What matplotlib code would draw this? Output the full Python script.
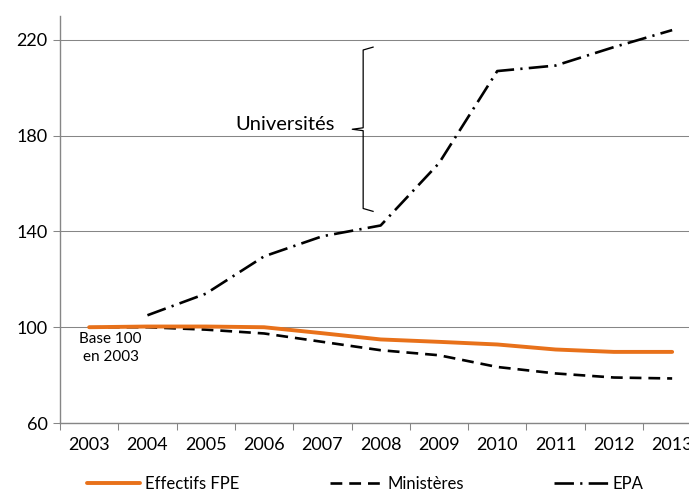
import matplotlib
matplotlib.use('Agg')
import matplotlib.pyplot as plt
import numpy as np

plt.rcParams['font.family'] = ['Lato', 'DejaVu Sans']
plt.rcParams['lines.scale_dashes'] = False

years = ['2003', '2004', '2005', '2006', '2007', '2008',
         '2009', '2010', '2011', '2012', '2013']
effectifs_fpe = [100, 100.3, 100.3, 100.0, 97.5, 94.9,
                 93.9, 92.8, 90.7, 89.7, 89.7]
ministeres = [100, 100, 99.0, 97.4, 93.9, 90.4,
              88.3, 83.4, 80.7, 79.0, 78.6]
epa = [np.nan, 105.0, 114.0, 129.6, 138.0, 142.5,
       168.5, 207.0, 209.3, 217.0, 224.1]

yticks = [60, 100, 140, 180, 220]
grey = '#868686'


def main():
    fig = plt.figure(figsize=(6.89, 4.93), dpi=100)
    # axes runs past the right edge, like the cropped original
    ax = fig.add_axes([60 / 689, 1 - 423 / 493, 641.3 / 689, 407 / 493])
    x = np.arange(len(years))

    ax.plot(x, effectifs_fpe, color='#E8711A', lw=2.8,
            solid_capstyle='round', label='Effectifs FPE', zorder=3)
    ax.plot(x, ministeres, color='black', lw=1.9,
            dashes=(8.5, 5), label='Ministères', zorder=2)
    ax.plot(x, epa, color='black', lw=1.9,
            dashes=(14, 4.5, 1.6, 4.5), label='EPA', zorder=2)

    ax.set_xlim(-0.5, len(years) - 0.5)
    ax.set_ylim(60, 230)
    ax.set_yticks(yticks)
    ax.set_xticks(x)
    ax.set_xticklabels(years)
    ax.set_xticks(np.arange(-0.5, len(years)), minor=True)
    ax.tick_params(axis='x', which='major', length=0, pad=10, labelsize=13)
    ax.tick_params(axis='x', which='minor', length=5, color=grey, width=0.75)
    ax.tick_params(axis='y', length=5, color=grey, width=0.75,
                   labelsize=13, pad=4)
    ax.grid(axis='y', color=grey, lw=0.75)
    ax.set_axisbelow(True)
    for side in ['top', 'right']:
        ax.spines[side].set_visible(False)
    for side in ['left', 'bottom']:
        ax.spines[side].set_color(grey)
        ax.spines[side].set_linewidth(1.0)

    # brace for Universités
    bx, top, mid, bot = 4.70, 217, 182.7, 148.4
    w = 0.17
    ax.plot([bx + w, bx, bx, bx - w * 1.1, bx, bx, bx + w],
            [top, top - 1.2, mid + 0.6, mid, mid - 0.6, bot + 1.2, bot],
            color='black', lw=0.9)
    ax.text(4.22, 184.8, 'Universités', ha='right', va='center', fontsize=14.5)
    ax.text(0.37, 98.0, 'Base 100\nen 2003', ha='center', va='top',
            fontsize=11, linespacing=1.35)

    fig.legend(loc='center', bbox_to_anchor=(0.53, 0.019), ncol=3,
               frameon=False, fontsize=12, handlelength=3.2,
               handletextpad=0.3, columnspacing=5.4)

    fig.savefig('out.png', dpi=100)


if __name__ == '__main__':
    main()
